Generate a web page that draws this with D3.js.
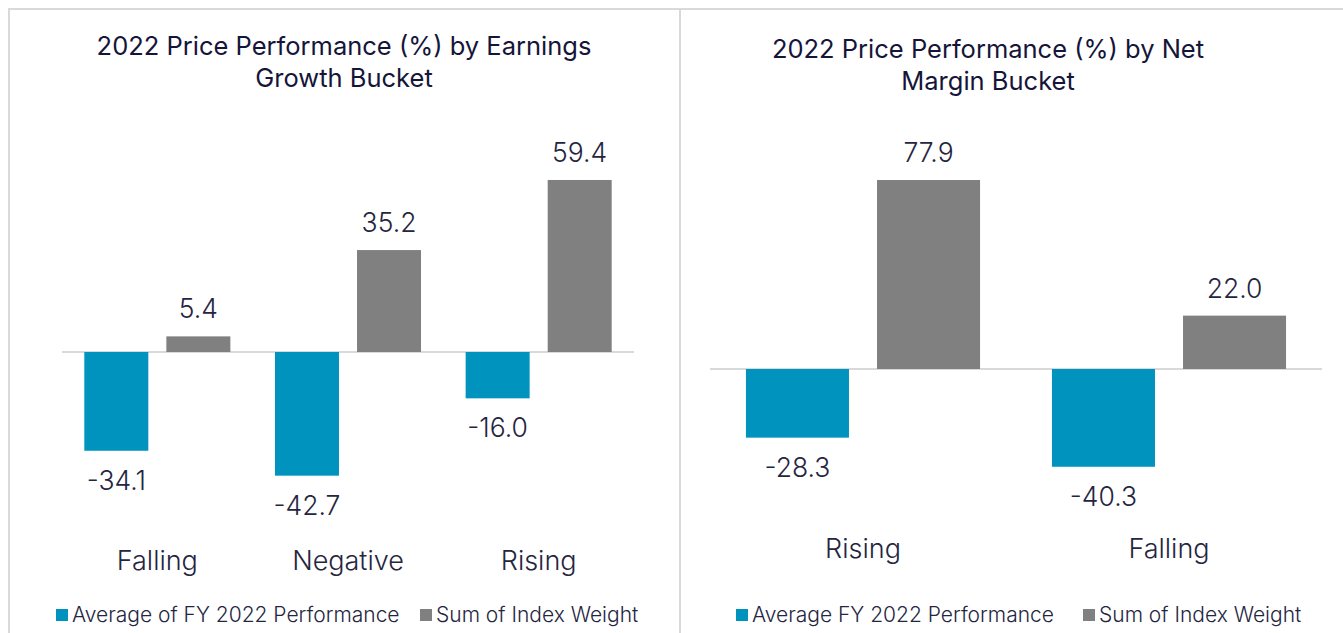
<!DOCTYPE html>
<html>
<head>
<meta charset="utf-8">
<script src="https://cdn.jsdelivr.net/npm/d3@7"></script>
<style>
  html, body { margin: 0; padding: 0; background: #fff; }
  svg { display: block; font-family: Inter, "Noto Sans", sans-serif; font-weight: 300; }
</style>
</head>
<body>
<svg width="1343" height="633"></svg>
<script>
// Data
const seriesNames = ['avg', 'weight'];

const leftTitle = ['2022 Price Performance (%) by Earnings', 'Growth Bucket'];
const leftCategories = ['Falling', 'Negative', 'Rising'];
const leftAvg = [-34.1, -42.7, -16.0];
const leftWeight = [5.4, 35.2, 59.4];
const leftLegend = ['Average of FY 2022 Performance', 'Sum of Index Weight'];

const rightTitle = ['2022 Price Performance (%) by Net', 'Margin Bucket'];
const rightCategories = ['Rising', 'Falling'];
const rightAvg = [-28.3, -40.3];
const rightWeight = [77.9, 22.0];
const rightLegend = ['Average FY 2022 Performance', 'Sum of Index Weight'];

const colors = { avg: '#0093bd', weight: '#808080' };
const textColor = '#25253f';
const titleColor = '#15153a';
const lineColor = '#d9d9d9';

const svg = d3.select('svg');
const fmt = d3.formatLocale({ decimal: '.', thousands: ',', grouping: [3], currency: ['', ''], minus: '-' }).format('.1f');

// frame
svg.append('line').attr('x1', 8).attr('x2', 1343).attr('y1', 9).attr('y2', 9)
  .attr('stroke', lineColor).attr('stroke-width', 2);
svg.append('line').attr('x1', 9).attr('x2', 9).attr('y1', 8).attr('y2', 633)
  .attr('stroke', lineColor).attr('stroke-width', 2);
svg.append('line').attr('x1', 680).attr('x2', 680).attr('y1', 8).attr('y2', 633)
  .attr('stroke', lineColor).attr('stroke-width', 2);

const drawPanel = cfg => {
  const g = svg.append('g');
  const rows = cfg.categories.map((c, i) => ({ cat: c, avg: cfg.avg[i], weight: cfg.weight[i] }));

  const x0 = d3.scaleBand().domain(cfg.categories).range(cfg.xRange)
    .paddingInner(cfg.pad).paddingOuter(cfg.pad / 2);
  const x1 = d3.scaleBand().domain(seriesNames).range([0, x0.bandwidth()])
    .paddingInner(cfg.innerPad);
  const y = d3.scaleLinear().domain(cfg.yDomain).range(cfg.yRange);

  // title
  g.append('text')
    .attr('x', cfg.titleX).attr('y', cfg.titleY)
    .attr('text-anchor', 'middle')
    .attr('fill', titleColor)
    .attr('font-size', 25.5)
    .attr('font-weight', 400)
    .selectAll('tspan')
    .data(cfg.title)
    .enter().append('tspan')
      .attr('x', cfg.titleX)
      .attr('dy', (d, i) => i ? 32 : 0)
      .text(d => d);

  // baseline
  g.append('line')
    .attr('x1', cfg.xRange[0]).attr('x2', cfg.xRange[1])
    .attr('y1', y(0)).attr('y2', y(0))
    .attr('stroke', lineColor).attr('stroke-width', 2);

  const groups = g.selectAll('g.cat')
    .data(rows)
    .enter().append('g')
      .attr('class', 'cat')
      .attr('transform', d => `translate(${x0(d.cat)},0)`);

  const bars = groups.selectAll('g.bar')
    .data(d => seriesNames.map(k => ({ key: k, value: d[k] })))
    .enter().append('g')
      .attr('class', 'bar');

  bars.append('rect')
    .attr('x', d => x1(d.key))
    .attr('width', x1.bandwidth())
    .attr('y', d => y(Math.max(0, d.value)))
    .attr('height', d => Math.abs(y(d.value) - y(0)))
    .attr('fill', d => colors[d.key]);

  bars.append('text')
    .attr('x', d => x1(d.key) + x1.bandwidth() / 2)
    .attr('y', d => d.value >= 0 ? y(d.value) - 18 : y(d.value) + 39)
    .attr('text-anchor', 'middle')
    .attr('fill', textColor)
    .attr('font-size', 26.5)
    .text(d => fmt(d.value));

  // category labels
  g.selectAll('text.cat-label')
    .data(cfg.categories)
    .enter().append('text')
      .attr('class', 'cat-label')
      .attr('x', d => x0(d) + x0.bandwidth() / 2)
      .attr('y', cfg.catY)
      .attr('text-anchor', 'middle')
      .attr('fill', textColor)
      .attr('font-size', 27)
      .text(d => d);

  // legend
  const leg = g.selectAll('g.legend')
    .data(seriesNames)
    .enter().append('g')
      .attr('class', 'legend')
      .attr('transform', (d, i) => `translate(${cfg.legendX[i]},${cfg.legendY})`);
  leg.append('rect')
    .attr('x', 0).attr('y', -13)
    .attr('width', 12).attr('height', 12)
    .attr('fill', d => colors[d]);
  leg.append('text')
    .attr('x', 16).attr('y', 0)
    .attr('fill', textColor)
    .attr('font-size', 21)
    .text((d, i) => cfg.legend[i]);
};

drawPanel({
  title: leftTitle, categories: leftCategories, avg: leftAvg, weight: leftWeight, legend: leftLegend,
  titleX: 344, titleY: 55,
  xRange: [62, 634], pad: 0.234, innerPad: 0.22,
  yDomain: [-50, 70], yRange: [352 + 50 * 2.896, 352 - 70 * 2.896],
  catY: 570, legendX: [56, 420], legendY: 622,
});

drawPanel({
  title: rightTitle, categories: rightCategories, avg: rightAvg, weight: rightWeight, legend: rightLegend,
  titleX: 988, titleY: 58,
  xRange: [710, 1322], pad: 0.235, innerPad: 0.214,
  yDomain: [-50, 90], yRange: [369 + 50 * 2.426, 369 - 90 * 2.426],
  catY: 558, legendX: [736, 1083], legendY: 622,
});
</script>
</body>
</html>
